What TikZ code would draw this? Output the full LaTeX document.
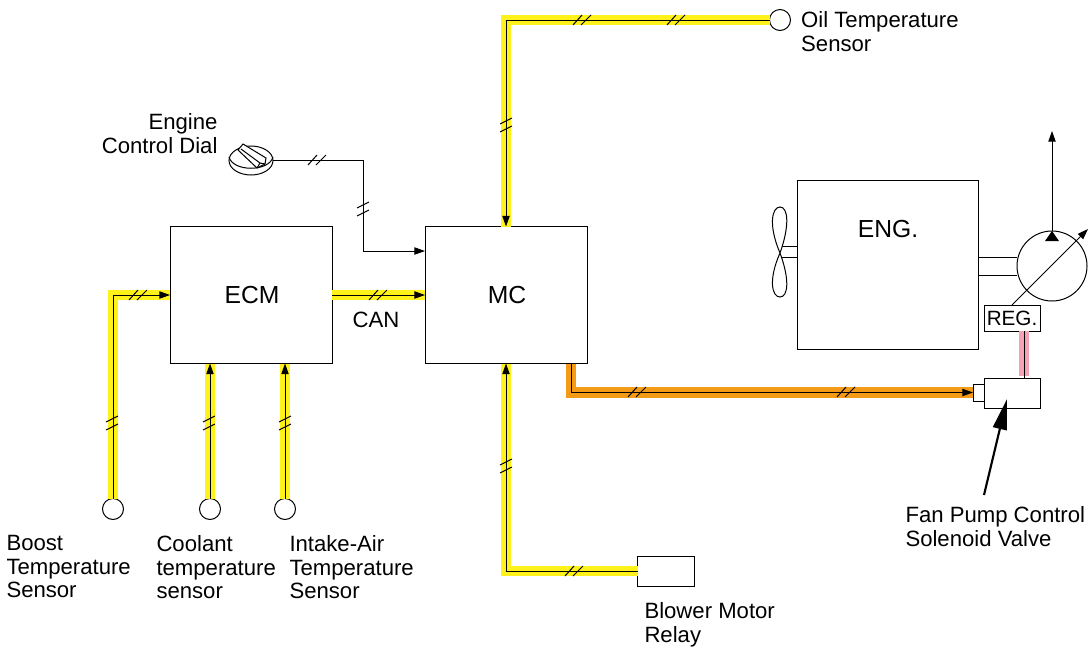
\documentclass[tikz,border=0pt]{standalone}
\usepackage{fontspec}
\setmainfont{Liberation Sans}
\usetikzlibrary{arrows.meta}
\usetikzlibrary{shapes.geometric}
\definecolor{wireyellow}{HTML}{FFF21A}
\definecolor{wireorange}{HTML}{F39A17}
\definecolor{wirepink}{HTML}{F4A3B7}
\tikzset{
	boxed/.style={draw, fill=white, outer sep=0pt, inner sep=0pt, font=\fontsize{18.5}{21}\selectfont},
	sensor/.style={draw, fill=white, circle, outer sep=0pt, inner sep=0pt, minimum size=15.75pt},
	label/.style={inner sep=0pt, anchor=north west, align=left, font=\fontsize{16.6}{17.7}\selectfont},
	tip/.style={-{Triangle[length=8pt, width=5.5pt]}},
	yellowwire/.style={preaction={draw=wireyellow, line width=8pt, arrows=-}},
	orangewire/.style={preaction={draw=wireorange, line width=8pt, arrows=-}},
	hbreak/.pic={
		\draw (-9, 5) -- (0, -5);
		\draw (-1, 5) -- (9, -5);
	},
	vbreak/.pic={
		\draw (-6, -1) -- (6, -7);
		\draw (-6, 7) -- (6, 1);
	}
}

\begin{document}
\begin{tikzpicture}[x=0.75pt, y=-0.75pt, line width=0.75pt]
	\useasboundingbox (0, 0) rectangle (1088, 647);

	% control units and engine
	\node[boxed, minimum width=121.5pt, minimum height=102.75pt] (ECM) at (251, 295) {};
	\node[boxed, minimum width=121.5pt, minimum height=102.75pt] (MC) at (506, 295) {};
	\node[boxed, minimum width=135.75pt, minimum height=126.75pt] (ENG) at (887.5, 264.5) {};
	\node[font=\fontsize{18.5}{21}\selectfont] (ECMtext) at (252, 295) {ECM};
	\node[font=\fontsize{18.5}{21}\selectfont] (MCtext) at (507, 295) {MC};
	\node[font=\fontsize{18.5}{21}\selectfont] (ENGtext) at (888, 229) {ENG.};

	% sensors and loads
	\node[sensor] (oil) at (780, 20) {};
	\node[sensor] (boost) at (113, 509) {};
	\node[sensor] (coolant) at (210, 509) {};
	\node[sensor] (intake) at (285, 509) {};
	\node[boxed, minimum width=42.75pt, minimum height=22.5pt] (relay) at (666, 571) {};
	\node[boxed, minimum width=42pt, minimum height=22.5pt] (valve) at (1012, 393) {};
	\node[boxed, minimum width=8.25pt, minimum height=12.75pt] (port) at (978.5, 392.5) {};
	\node[boxed, minimum width=42pt, minimum height=19.5pt, font=\fontsize{15.5}{18}\selectfont] (REG) at (1012, 318) {REG.};
	\node[draw, fill=white, ellipse, outer sep=0pt, inner sep=0pt, minimum width=33pt, minimum height=21.75pt] (dial) at (251, 160.5) {};
	\draw (229, 157) .. controls (233, 172) and (269, 172) .. (273, 157);
	\draw[fill=white] (238, 150) -- (243, 144) -- (266, 158) -- (265, 164) -- (257, 168) -- cycle;
	\draw (241, 149) -- (260, 163) -- (265, 164);
	\draw (257, 168) -- (260, 163);

	% wires
	\coordinate (ECMcoolant) at (210, 363.5);
	\coordinate (ECMintake) at (285, 363.5);
	\coordinate (MCout) at (571, 363.5);
	\coordinate (MCdial) at (425, 251);
	\coordinate (dialcorner) at (363, 160.5);
	\draw[tip, yellowwire] (oil.west) -| (MC.north);
	\draw[tip, yellowwire] (relay.west) -| (MC.south);
	\draw[tip, yellowwire] (boost.north) |- (ECM.west);
	\draw[tip, yellowwire] (coolant.north) -- (ECMcoolant);
	\draw[tip, yellowwire] (intake.north) -- (ECMintake);
	\draw[tip, yellowwire] (ECM.east) -- (MC.west);
	\draw[tip, orangewire] (MCout) |- (port.west);
	\draw[tip] (dial.east) -- (dialcorner) |- (MCdial);

	% double slashes on the wires
	\pic at (582, 20) {hbreak};
	\pic at (676, 20) {hbreak};
	\pic at (138, 295) {hbreak};
	\pic at (378, 295) {hbreak};
	\pic at (317, 160) {hbreak};
	\pic at (574, 571) {hbreak};
	\pic at (637, 392) {hbreak};
	\pic at (846, 392) {hbreak};
	\pic at (506, 125) {vbreak};
	\pic at (506, 466) {vbreak};
	\pic at (363, 209) {vbreak};
	\pic at (112, 423) {vbreak};
	\pic at (209, 423) {vbreak};
	\pic at (285, 423) {vbreak};

	% fan and pump
	\coordinate (fanhub) at (780, 253);
	\draw (fanhub |- 0, 246) -- (ENG.west |- 0, 246);
	\draw (fanhub |- 0, 257) -- (ENG.west |- 0, 257);
	\draw[fill=white] (fanhub) .. controls (768, 225) and (772, 207) .. (780, 207) .. controls (788, 207) and (790, 225) .. (fanhub)
		.. controls (768, 280) and (772, 297) .. (780, 297) .. controls (788, 297) and (790, 280) .. (fanhub);
	\node[draw, circle, fill=white, outer sep=0pt, inner sep=0pt, minimum size=52.5pt] (pump) at (1052, 266) {};
	\draw (ENG.east |- 0, 257) -- (pump.west |- 0, 257);
	\draw (ENG.east |- 0, 275) -- (pump.west |- 0, 275);
	\coordinate (pumpout) at (1052, 131);
	\coordinate (pumpadj) at (1088, 229);
	\draw[tip] (pump.north) -- (pumpout);
	\fill (1052, 231) -- (1045, 241) -- (1059, 241) -- cycle;
	\coordinate (REGadj) at (1012, 305);
	\draw[tip] (REGadj) -- (pumpadj);
	\fill[wirepink] (1018.5, 331) rectangle (1029, 376);
	\coordinate (REGout) at (1024, 331);
	\coordinate (valvein) at (1024, 378);
	\draw (REGout) -- (valvein);

	% solenoid pointer
	\coordinate (valvetail) at (984, 495);
	\coordinate (valvehead) at (1007, 399);
	\draw[-{Triangle[length=23pt, width=10.5pt]}, line width=1.6pt] (valvetail) -- (valvehead);

	% labels
	\node[label] (oiltext) at (800.7, 11) {Oil Temperature\\Sensor};
	\node[label, align=right, anchor=north east] (dialtext) at (218, 113) {Engine\\Control Dial};
	\node[label] (boosttext) at (6, 535) {Boost\\Temperature\\Sensor};
	\node[label] (coolanttext) at (156, 535) {Coolant\\temperature\\sensor};
	\node[label] (intaketext) at (289, 535) {Intake-Air\\Temperature\\Sensor};
	\node[label] (relaytext) at (644, 602) {Blower Motor\\Relay};
	\node[label] (valvetext) at (905, 506) {Fan Pump Control\\Solenoid Valve};
	\node[label, anchor=center] (cantext) at (376, 320) {CAN};
\end{tikzpicture}
\end{document}
